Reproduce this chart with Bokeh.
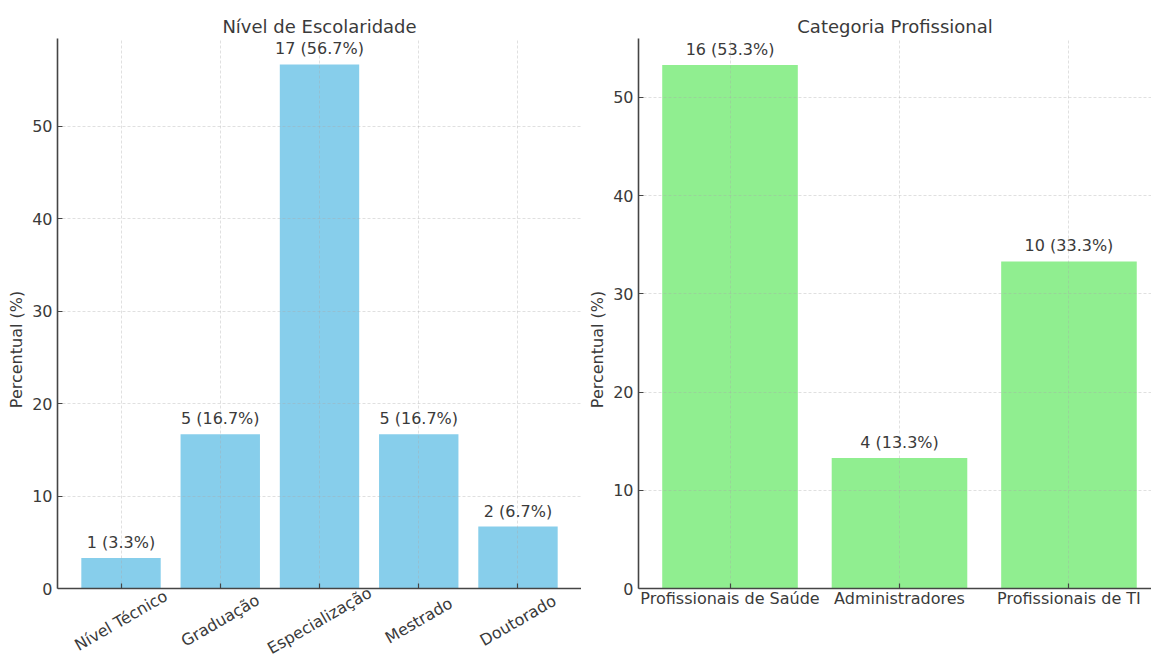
import math
from bokeh.plotting import figure
from bokeh.layouts import row
from bokeh.models import ColumnDataSource, Range1d, FixedTicker, LabelSet, BoxAnnotation
from bokeh.core.properties import value
from bokeh.embed import file_html
from bokeh.resources import INLINE

# ---- data ----
escolaridade_cats = ["Nível Técnico", "Graduação", "Especialização", "Mestrado", "Doutorado"]
escolaridade_counts = [1, 5, 17, 5, 2]
escolaridade_pct = [3.3, 16.7, 56.7, 16.7, 6.7]

categoria_cats = ["Profissionais de Saúde", "Administradores", "Profissionais de TI"]
categoria_counts = [16, 4, 10]
categoria_pct = [53.3, 13.3, 33.3]

y_ticks = [0, 10, 20, 30, 40, 50]

FONT = "DejaVu Sans"
TXT = "#3a3a3a"
SPINE = "#454545"
BOTTOM_PAD = 72  # pixels between the zero line and the bottom of the page


def style(p, ytop):
    p.outline_line_color = None
    p.title.text_font = FONT
    p.title.text_font_size = "18px"
    p.title.text_font_style = "normal"
    p.title.text_color = TXT
    p.title.align = "center"
    p.title.standoff = 4
    for ax in (p.xaxis[0], p.yaxis[0]):
        ax.level = "overlay"
        ax.axis_line_color = SPINE
        ax.axis_line_width = 1.6
        ax.major_tick_line_color = SPINE
        ax.major_tick_line_width = 1.2
        ax.major_tick_in = 5
        ax.major_tick_out = 0
        ax.minor_tick_line_color = None
        ax.major_label_text_font = FONT
        ax.major_label_text_font_size = "16px"
        ax.major_label_text_color = TXT
        ax.axis_label_text_font = FONT
        ax.axis_label_text_font_size = "16px"
        ax.axis_label_text_font_style = "normal"
        ax.axis_label_text_color = TXT
    p.xaxis[0].fixed_location = 0
    p.yaxis[0].major_label_standoff = 5
    p.yaxis[0].axis_label_standoff = 3
    p.yaxis[0].ticker = FixedTicker(ticks=y_ticks)
    p.yaxis[0].axis_label = "Percentual (%)"
    p.yaxis[0].bounds = (0, ytop)
    for g in (p.xgrid[0], p.ygrid[0]):
        g.level = "annotation"
        g.grid_line_color = "#a8a8a8"
        g.grid_line_alpha = 0.45
        g.grid_line_width = 0.8
        g.grid_line_dash = "3 2"
    p.ygrid[0].ticker = FixedTicker(ticks=y_ticks)
    if "cross_bounds" in p.xgrid[0].properties():
        p.xgrid[0].cross_bounds = (0, ytop)
    else:
        p.add_layout(BoxAnnotation(top=0, fill_color="white", fill_alpha=1.0,
                                   line_color=None, level="annotation"))


# ---- left chart ----
n1 = len(escolaridade_cats)
src1 = ColumnDataSource(dict(
    x=list(range(n1)),
    y=escolaridade_pct,
    zero=[0] * n1,
    cat=escolaridade_cats,
    lab=[f"{c} ({v}%)" for c, v in zip(escolaridade_counts, escolaridade_pct)],
))
Y1_TOP = 59.5
y1_start = -BOTTOM_PAD / (550 / Y1_TOP)
p1 = figure(width=581, height=660, output_backend="svg", toolbar_location=None,
            title="Nível de Escolaridade",
            x_range=Range1d(-0.64, n1 - 1 + 0.64), y_range=Range1d(y1_start, Y1_TOP),
            min_border_left=57, min_border_right=0, min_border_top=38, min_border_bottom=0)
p1.vbar(x="x", top="y", width=0.8, source=src1, fill_color="#87CEEB", line_color=None)
p1.xgrid[0].ticker = FixedTicker(ticks=list(range(n1)))
style(p1, Y1_TOP)
p1.xaxis[0].ticker = FixedTicker(ticks=list(range(n1)))
p1.xaxis[0].major_label_overrides = {i: "" for i in range(n1)}
p1.add_layout(LabelSet(x="x", y="y", text="lab", source=src1, text_align="center",
                       text_baseline="alphabetic", y_offset=10, text_font=value(FONT),
                       text_font_size=value("16px"), text_color=TXT))
p1.add_layout(LabelSet(x="x", y="zero", text="cat", source=src1, text_align="center",
                       text_baseline="middle", y_offset=-32, angle=math.pi / 6,
                       text_font=value(FONT), text_font_size=value("16px"), text_color=TXT))

# ---- right chart ----
n2 = len(categoria_cats)
src2 = ColumnDataSource(dict(
    x=list(range(n2)),
    y=categoria_pct,
    zero=[0] * n2,
    cat=categoria_cats,
    lab=[f"{c} ({v}%)" for c, v in zip(categoria_counts, categoria_pct)],
))
Y2_TOP = 56
y2_start = -BOTTOM_PAD / (550 / Y2_TOP)
p2 = figure(width=570, height=660, output_backend="svg", toolbar_location=None,
            title="Categoria Profissional",
            x_range=Range1d(-0.54, 2.487), y_range=Range1d(y2_start, Y2_TOP),
            min_border_left=57, min_border_right=0, min_border_top=38, min_border_bottom=0)
p2.vbar(x="x", top="y", width=0.8, source=src2, fill_color="#90EE90", line_color=None)
p2.xgrid[0].ticker = FixedTicker(ticks=list(range(n2)))
style(p2, Y2_TOP)
p2.xaxis[0].ticker = FixedTicker(ticks=list(range(n2)))
p2.xaxis[0].major_label_overrides = {i: "" for i in range(n2)}
p2.add_layout(LabelSet(x="x", y="y", text="lab", source=src2, text_align="center",
                       text_baseline="alphabetic", y_offset=10, text_font=value(FONT),
                       text_font_size=value("16px"), text_color=TXT))
p2.add_layout(LabelSet(x="x", y="zero", text="cat", source=src2, text_align="center",
                       text_baseline="alphabetic", y_offset=-15,
                       text_font=value(FONT), text_font_size=value("16px"), text_color=TXT))

layout = row(p1, p2)
open("out.html", "w").write(file_html(layout, INLINE))
